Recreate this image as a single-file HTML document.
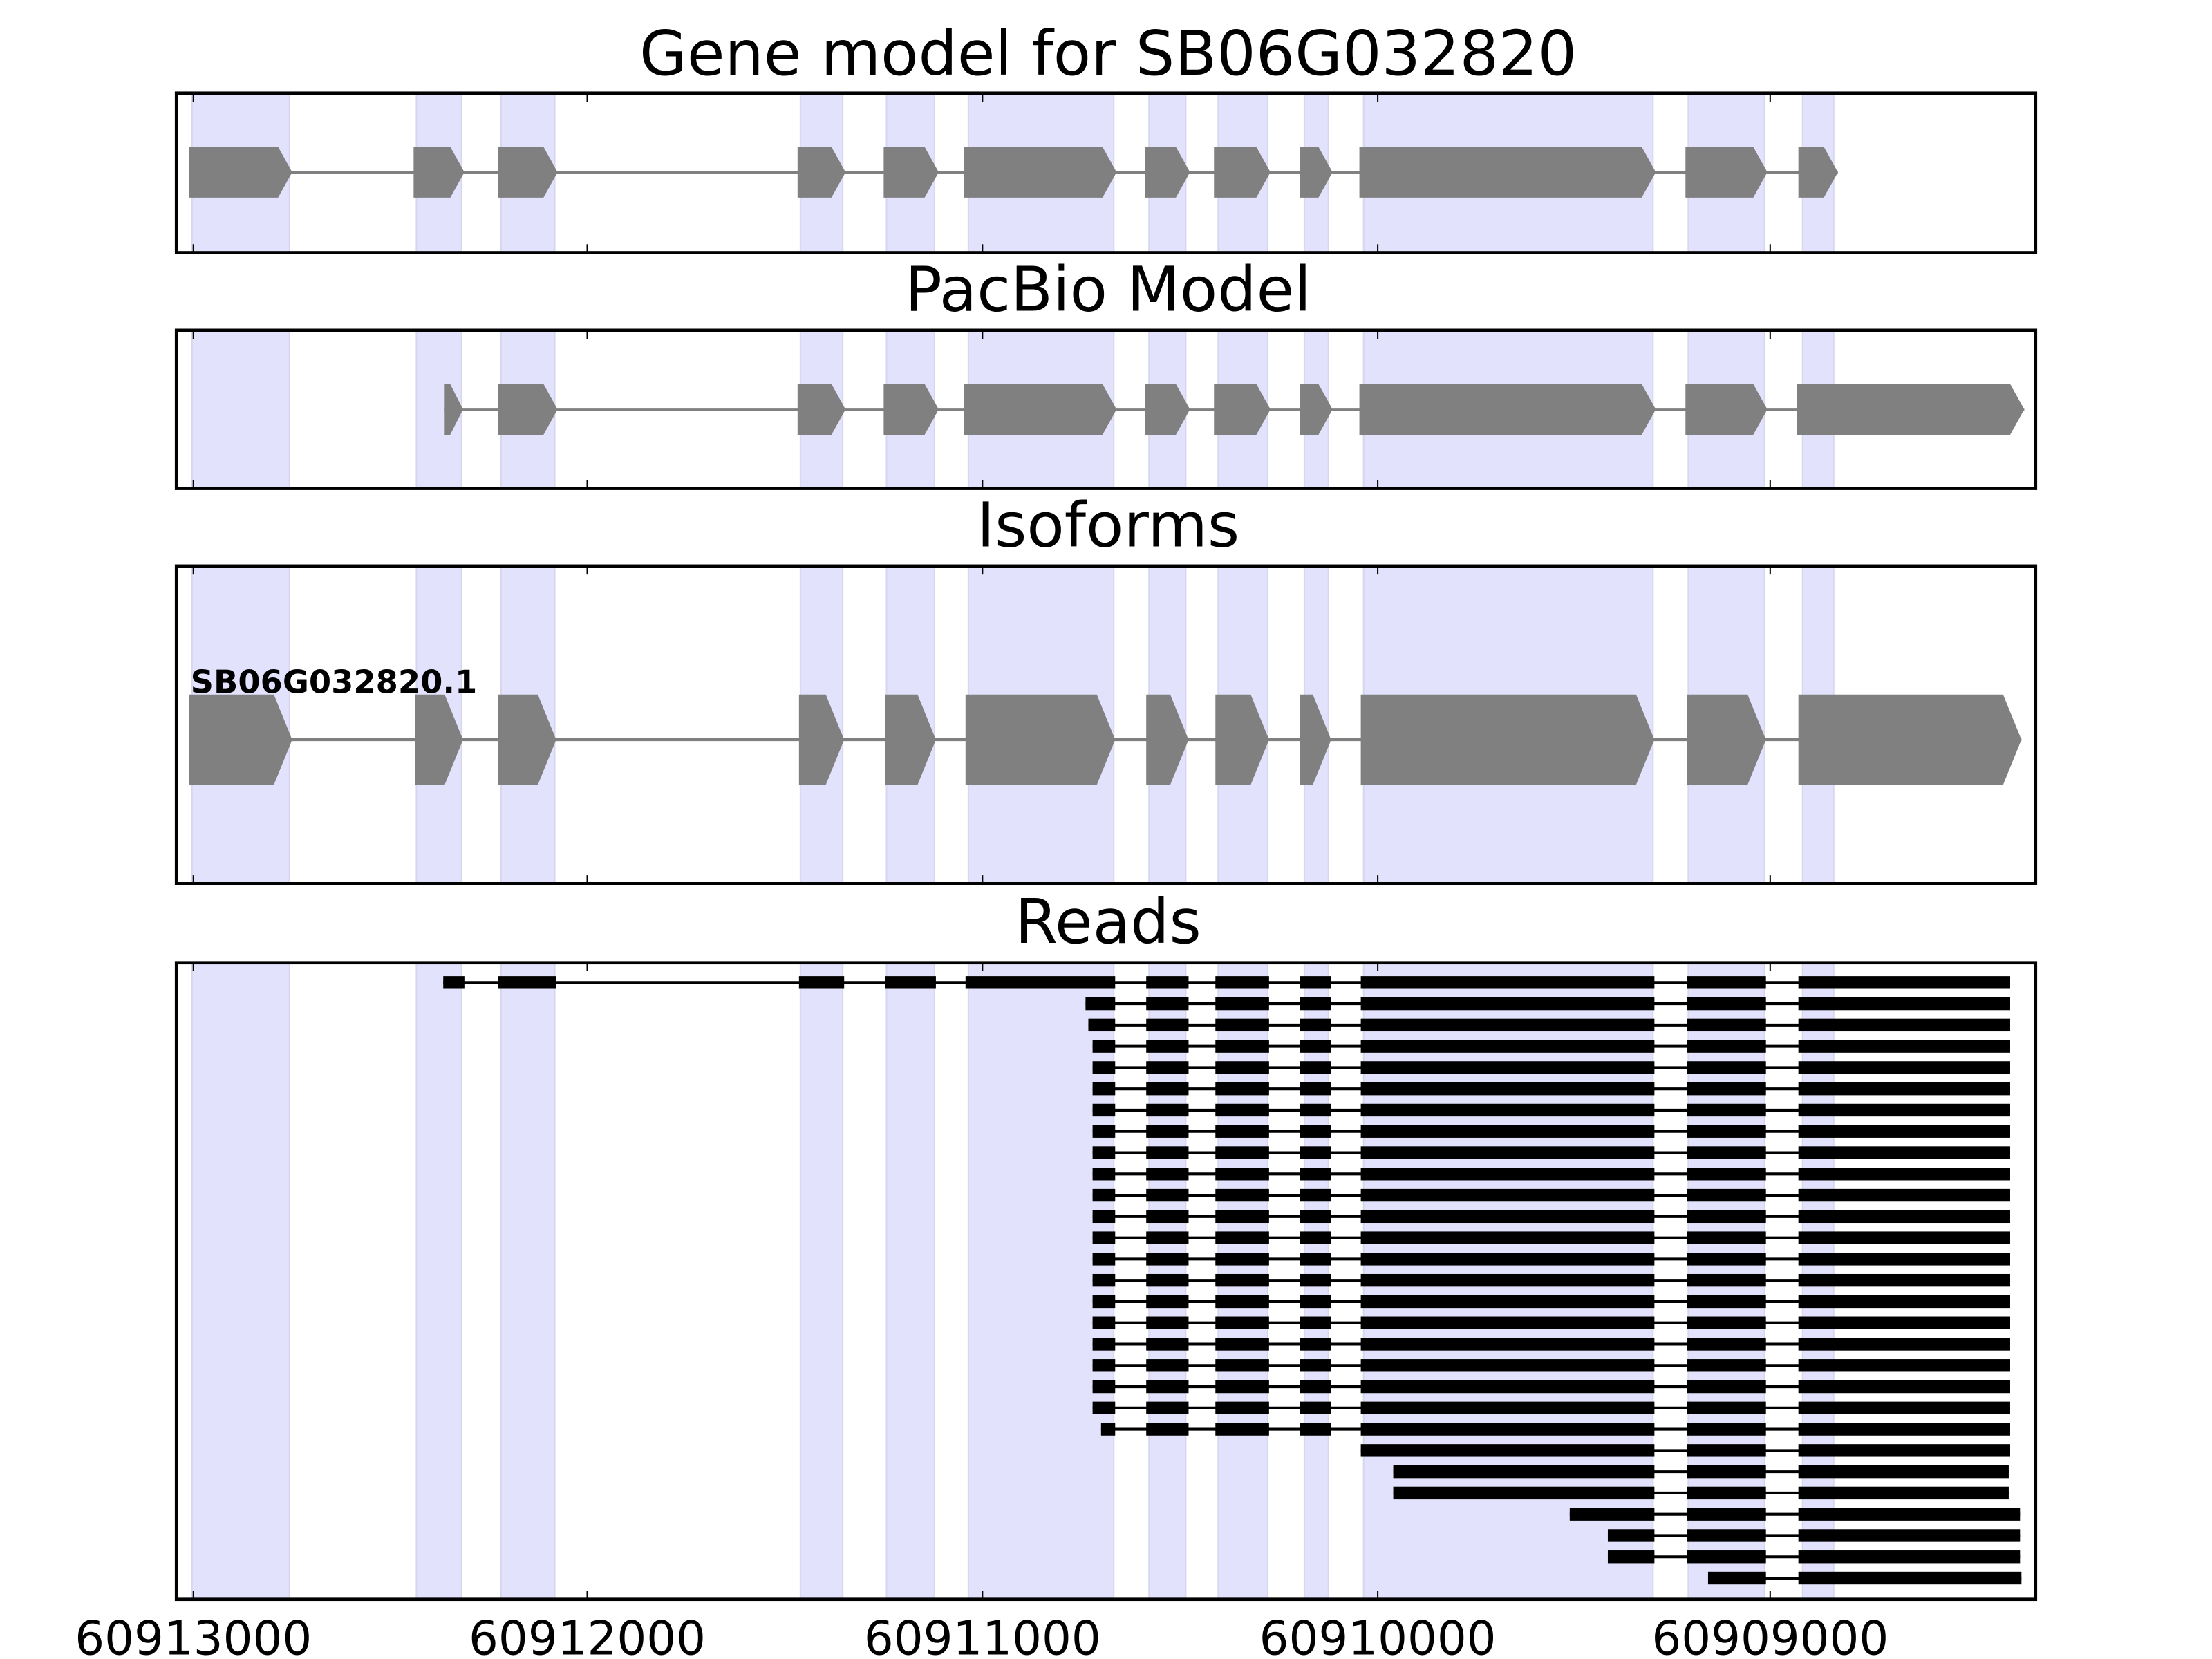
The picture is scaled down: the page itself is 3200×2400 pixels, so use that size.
<!DOCTYPE html>
<html><head><meta charset="utf-8"><style>
html,body{margin:0;padding:0;background:#fff;}
svg{display:block;}
</style></head><body>
<svg id="s" width="3200" height="2400" viewBox="0 0 1567 1175.25" xmlns="http://www.w3.org/2000/svg" font-family="DejaVu Sans, Liberation Sans, sans-serif">
<g id="g"></g>
</svg>
<script>
var g=document.getElementById('g');var h='';
var L=125,R=1442;
var panels=[[66,179,'Gene model for SB06G032820',53],[234,346,'PacBio Model',220],[401,626,'Isoforms',387],[682,1133,'Reads',668]];
var bands=[[136,205],[295,327],[355,393],[567,597],[628,662],[686,789],[814,840],[863,898],[924,941],[966,1171],[1196,1250],[1277,1299]];
var ticks=[[137,'60913000'],[416,'60912000'],[696,'60911000'],[976,'60910000'],[1254,'60909000']];
function arrow(x1,x2,cy,hh,p){var a=Math.min(p,(x2-x1)*0.7);return '<polygon points="'+x1+','+(cy-hh)+' '+(x2-a)+','+(cy-hh)+' '+x2+','+cy+' '+(x2-a)+','+(cy+hh)+' '+x1+','+(cy+hh)+'" fill="#808080"/>';}
panels.forEach(function(p){
  var t=p[0],b=p[1];
  bands.forEach(function(d){h+='<rect x="'+d[0]+'" y="'+t+'" width="'+(d[1]-d[0])+'" height="'+(b-t)+'" fill="#e2e2fc" stroke="#d6d6ee" stroke-width="1"/>';});
  h+='<text x="785" y="'+p[3]+'" font-size="43.5" text-anchor="middle">'+p[2]+'</text>';
});
function model(ex,cy,hh,p){
  h+='<line x1="'+ex[0][0]+'" x2="'+ex[ex.length-1][1]+'" y1="'+cy+'" y2="'+cy+'" stroke="#808080" stroke-width="2"/>';
  ex.forEach(function(e){h+=arrow(e[0],e[1],cy,hh,p);});
}
var common=[[565,599],[626,665],[683,791],[811,843],[860,900],[921,944],[963,1173],[1194,1252]];
model([[134,207],[293,329],[353,395]].concat(common).concat([[1274,1302]]),122,18,10);
model([[315,328],[353,395]].concat(common).concat([[1273,1434]]),290,18,10);
model([[134,207],[294,328],[353,394],[566,598],[627,663],[684,790],[812,842],[861,899],[921,943],[964,1172],[1195,1251],[1274,1432]],524,32,13);
h+='<text x="135" y="491" font-size="22.7" font-weight="bold">SB06G032820.1</text>';
var rx=[[812,842],[861,899],[921,943],[964,1172],[1195,1251]];
var rows=[];
rows.push([[314,329],[353,394],[566,598],[627,663],[684,790]].concat(rx).concat([[1274,1424]]));
var st=[769,771];for(var i=0;i<18;i++)st.push(774);st.push(780);
st.forEach(function(s){rows.push([[s,790]].concat(rx).concat([[1274,1424]]));});
rows.push([[964,1172],[1195,1251],[1274,1424]]);
rows.push([[987,1172],[1195,1251],[1274,1423]]);
rows.push([[987,1172],[1195,1251],[1274,1423]]);
rows.push([[1112,1172],[1195,1251],[1274,1431]]);
rows.push([[1139,1172],[1195,1251],[1274,1431]]);
rows.push([[1139,1172],[1195,1251],[1274,1431]]);
rows.push([[1210,1251],[1274,1432]]);
rows.forEach(function(r,i){
  var y=696+i*15.07;
  h+='<line x1="'+r[0][0]+'" x2="'+r[r.length-1][1]+'" y1="'+y+'" y2="'+y+'" stroke="#000" stroke-width="2"/>';
  r.forEach(function(e){h+='<rect x="'+e[0]+'" y="'+(y-4.5)+'" width="'+(e[1]-e[0])+'" height="9" fill="#000"/>';});
});
panels.forEach(function(p){
  var t=p[0],b=p[1];
  ticks.forEach(function(k){h+='<line x1="'+k[0]+'" x2="'+k[0]+'" y1="'+t+'" y2="'+(t+6)+'" stroke="#000" stroke-width="1"/><line x1="'+k[0]+'" x2="'+k[0]+'" y1="'+b+'" y2="'+(b-6)+'" stroke="#000" stroke-width="1"/>';});
  h+='<rect x="'+L+'" y="'+t+'" width="'+(R-L)+'" height="'+(b-t)+'" fill="none" stroke="#000" stroke-width="2.3"/>';
});
ticks.forEach(function(k){h+='<text x="'+k[0]+'" y="1172" font-size="33" text-anchor="middle">'+k[1]+'</text>';});
g.innerHTML=h;
</script>
</body></html>
